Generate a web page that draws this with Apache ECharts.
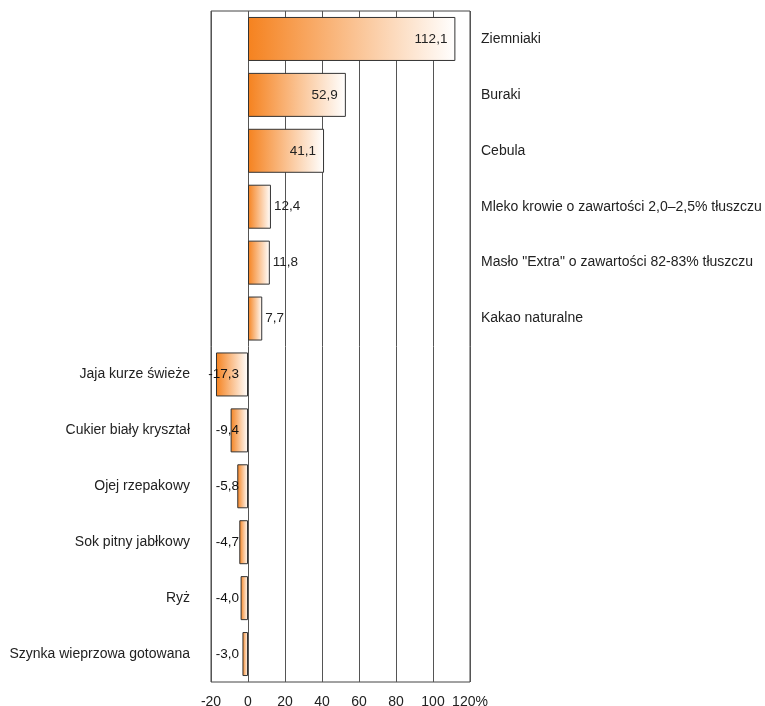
<!DOCTYPE html>
<html><head><meta charset="utf-8">
<script src="https://cdn.jsdelivr.net/npm/echarts@6/dist/echarts.min.js"></script>
<style>html,body{margin:0;padding:0;background:#fff}#c{width:765px;height:706px}</style>
</head><body><div id="c"></div>
<script>
const categories = ["Ziemniaki","Buraki","Cebula","Mleko krowie o zawartości 2,0–2,5% tłuszczu","Masło \"Extra\" o zawartości 82-83% tłuszczu","Kakao naturalne","Jaja kurze świeże","Cukier biały kryształ","Ojej rzepakowy","Sok pitny jabłkowy","Ryż","Szynka wieprzowa gotowana"];
const values = [112.1, 52.9, 41.1, 12.4, 11.8, 7.7, -17.3, -9.4, -5.8, -4.7, -4.0, -3.0];
const xTicks = [-20, 0, 20, 40, 60, 80, 100, 120];

const fmt = v => v.toFixed(1).replace('.', ',');
const font = 'Liberation Sans, Arial, sans-serif';
const grad = new echarts.graphic.LinearGradient(0, 0, 1, 0, [
  {offset: 0, color: '#F5821F'},
  {offset: 1, color: '#FFFFFF'}
]);

const barData = values.map(v => ({
  value: v,
  label: v >= 30 ? {show: true, position: 'insideRight', distance: 8}
       : v >= 0 ? {show: true, position: 'right', distance: 3}
       : {show: false}
}));
const negLabelData = values.map((v, i) => v < 0 ? [0, i, v] : null).filter(d => d);

const chart = echarts.init(document.getElementById('c'), null, {renderer: 'canvas'});
chart.setOption({
  animation: false,
  textStyle: {fontFamily: font},
  grid: {left: 211, right: 295, top: 11, bottom: 24, show: true, borderColor: '#444', borderWidth: 1,
         containLabel: false, outerBoundsMode: 'none'},
  xAxis: {
    type: 'value', min: xTicks[0], max: xTicks[xTicks.length - 1], interval: 20,
    axisLine: {show: false}, axisTick: {show: false},
    splitLine: {show: true, lineStyle: {color: '#555', width: 1}},
    axisLabel: {color: '#222', fontSize: 14, margin: 13, fontFamily: font,
      formatter: v => v === 120 ? '120%' : String(v)}
  },
  yAxis: [
    {type: 'category', data: categories, inverse: true, position: 'left',
     axisLine: {show: false}, axisTick: {show: false},
     axisLabel: {color: '#222', fontSize: 14, margin: 21, fontFamily: font, padding: [6, 0, 0, 0],
       formatter: (n, i) => values[i] < 0 ? n : ''}},
    {type: 'category', data: categories, inverse: true, position: 'right',
     axisLine: {show: false}, axisTick: {show: false},
     axisLabel: {color: '#222', fontSize: 14, margin: 11, fontFamily: font, padding: [6, 0, 0, 0],
       formatter: (n, i) => values[i] >= 0 ? n : ''}}
  ],
  series: [
    {type: 'bar', yAxisIndex: 0, data: barData, barWidth: 44,
     itemStyle: {color: grad, borderColor: '#333', borderWidth: 1},
     label: {color: '#222', fontSize: 13.5, fontFamily: font, formatter: p => fmt(p.value)}},
    {type: 'scatter', yAxisIndex: 0, data: negLabelData, symbolSize: 2,
     itemStyle: {color: 'rgba(0,0,0,0)', opacity: 1}, encode: {x: 0, y: 1}, silent: true,
     label: {show: true, position: 'left', distance: 8, color: '#111', opacity: 1, textBorderWidth: 0,
       fontSize: 13.5, fontFamily: font, formatter: p => fmt(p.value[2])}, z: 5}
  ]
});
</script></body></html>
